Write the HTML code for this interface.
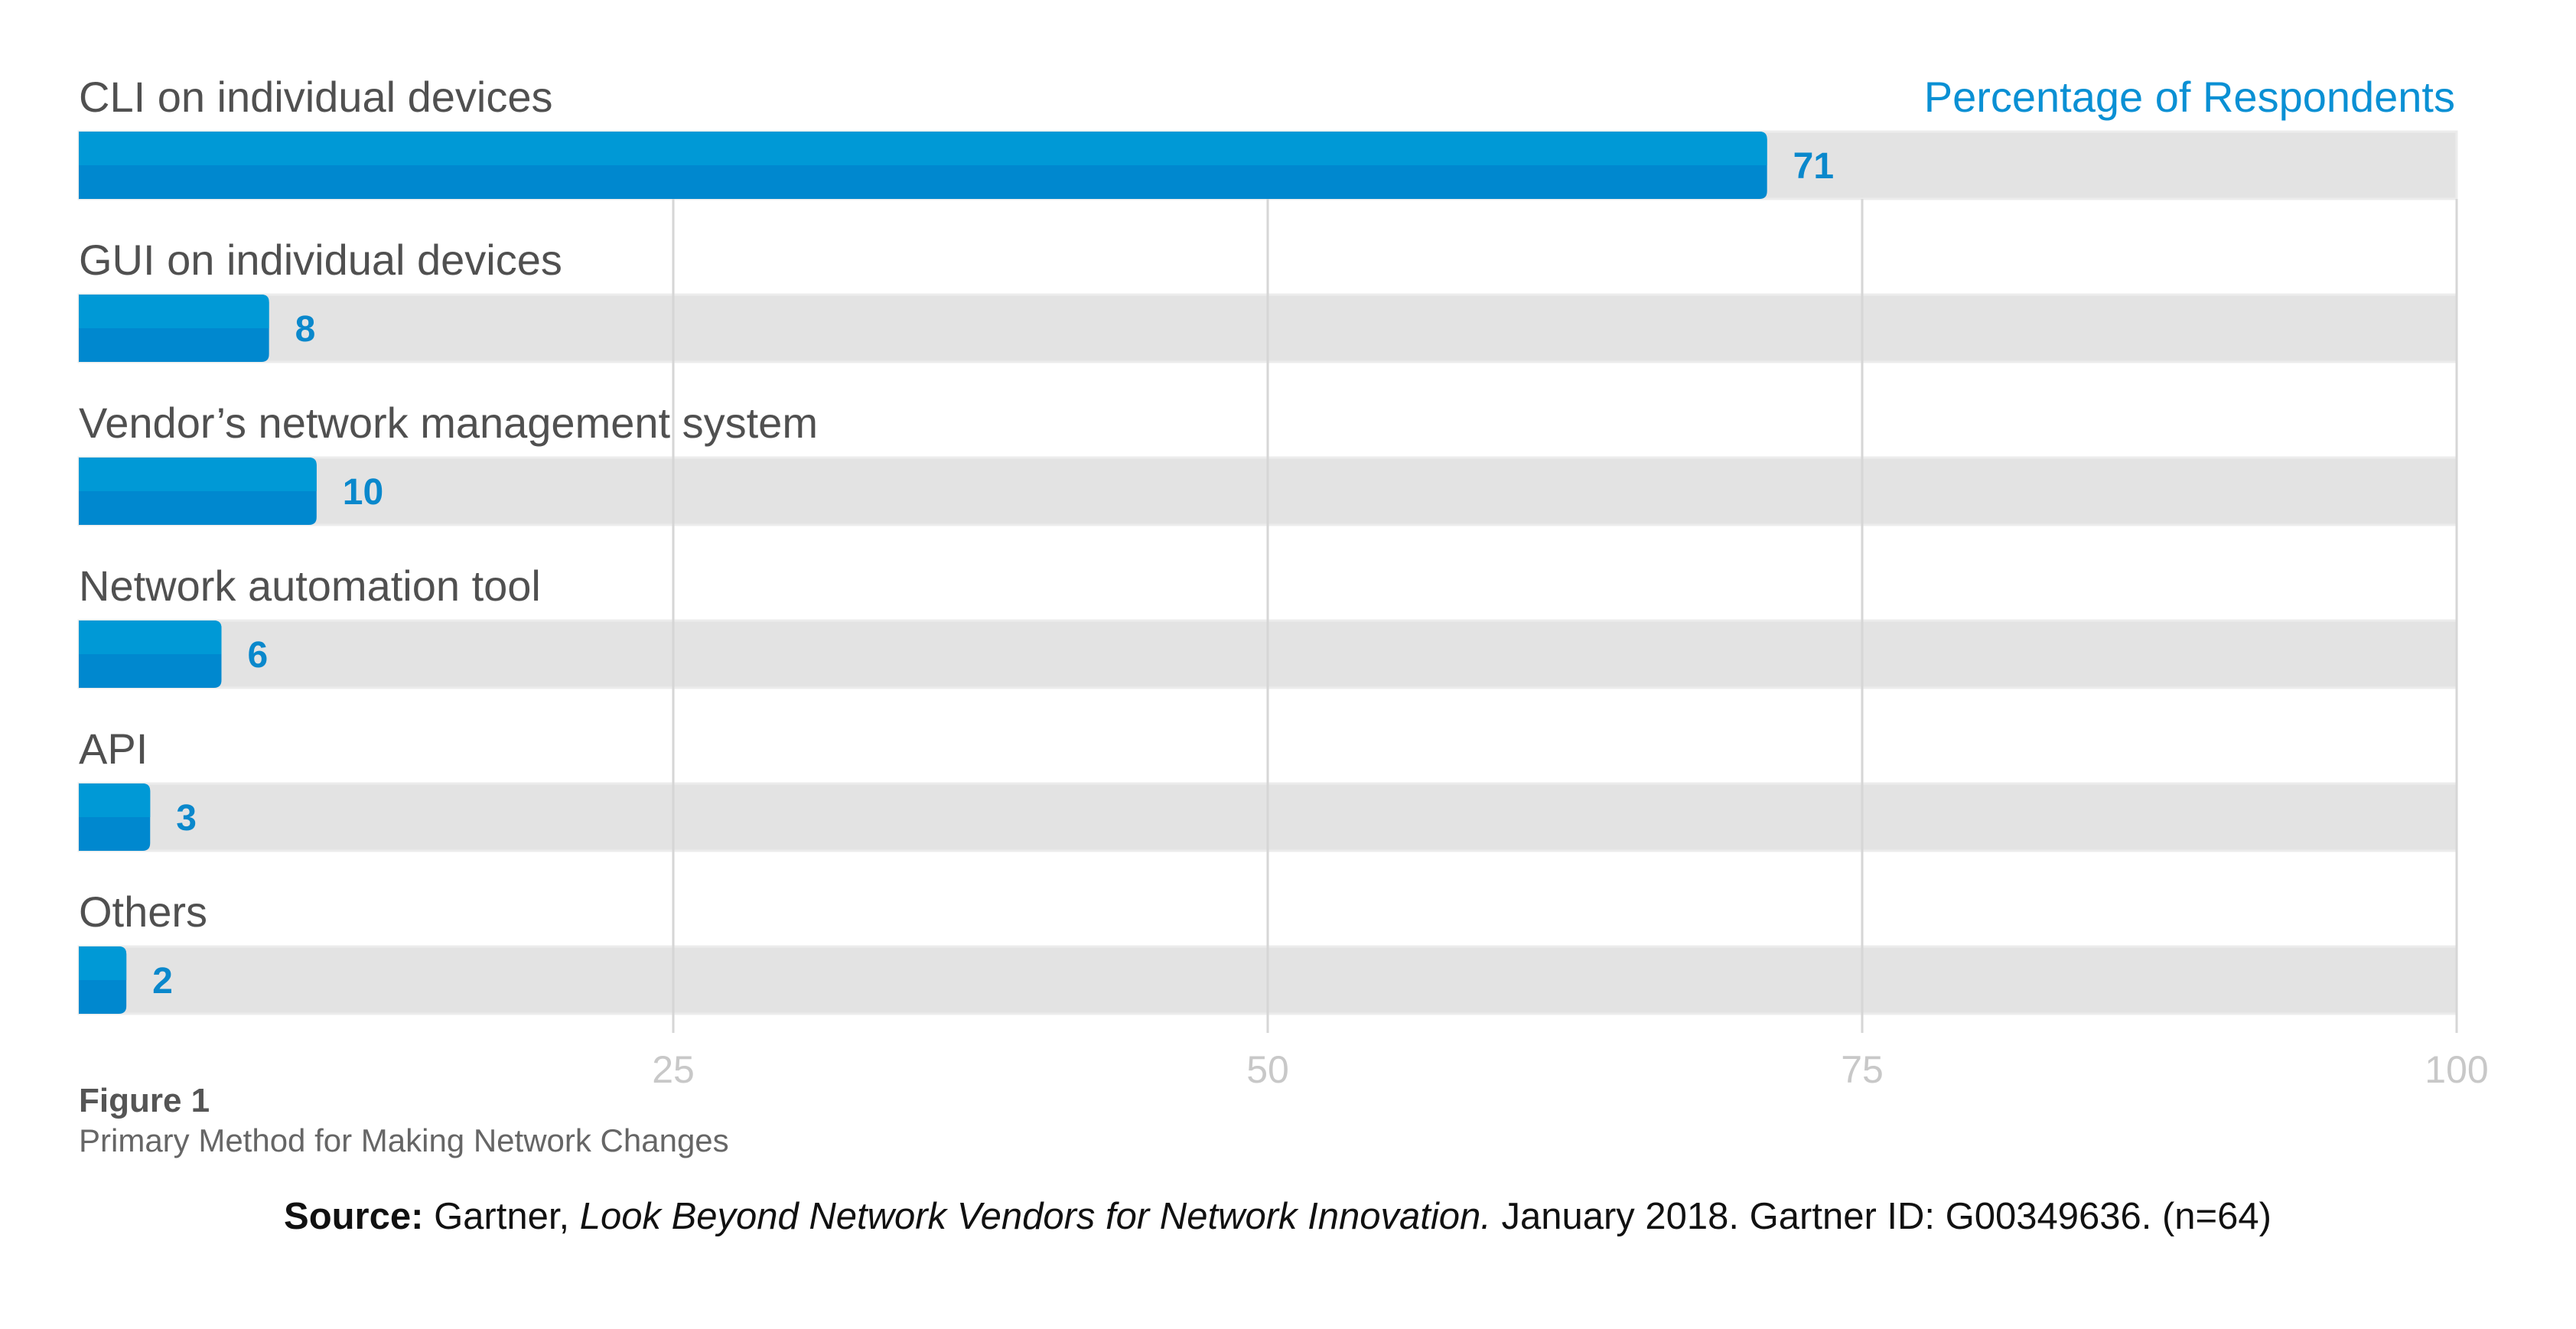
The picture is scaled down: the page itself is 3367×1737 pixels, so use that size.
<!DOCTYPE html>
<html><head><meta charset="utf-8"><style>
html,body{margin:0;padding:0;background:#fff;}
svg{display:block;font-family:"Liberation Sans",sans-serif;}
</style></head><body>
<svg id="chart" width="3367" height="1737" viewBox="0 0 3367 1737" xmlns="http://www.w3.org/2000/svg">
<g id="grid"></g>
<g id="rows"></g>
<g id="ticks"></g>
<text x="3209" y="146" text-anchor="end" font-size="56" fill="#0a90d4">Percentage of Respondents</text>
<text x="103" y="1453" font-size="44" font-weight="bold" fill="#555">Figure 1</text>
<text x="103" y="1505" font-size="42" fill="#666">Primary Method for Making Network Changes</text>
<text x="1670" y="1606" text-anchor="middle" font-size="49" fill="#111"><tspan font-weight="bold">Source:</tspan> Gartner, <tspan font-style="italic">Look Beyond Network Vendors for Network Innovation.</tspan> January 2018. Gartner ID: G00349636. (n=64)</text>
</svg>
<script>
const categories = ["CLI on individual devices","GUI on individual devices","Vendor\u2019s network management system","Network automation tool","API","Others"];
const values = [71, 8, 10, 6, 3, 2];
const tickValues = [25, 50, 75, 100];
const tickLabels = ["25","50","75","100"];

const NS = "http://www.w3.org/2000/svg";
const X0 = 103, X1 = 3211, MAXV = 100;
const xScale = v => X0 + (v / MAXV) * (X1 - X0);
const ROW0 = 172, ROWSTEP = 213, BARH = 88;
const yRow = i => ROW0 + i * ROWSTEP;
function mk(tag, attrs, parent){ const e=document.createElementNS(NS,tag); for(const k in attrs) e.setAttribute(k,attrs[k]); parent.appendChild(e); return e; }

const rows = document.getElementById('rows');
const ticks = document.getElementById('ticks');

categories.forEach((c,i)=>{
  const y = yRow(i);
  const t = mk('rect',{x:X0,y:y,width:X1-X0,height:BARH,fill:'#e3e3e3',stroke:'#ececec','stroke-width':3},rows);
  
  
});
tickValues.forEach((v,i)=>{
  const l = mk('line',{x1:xScale(v),x2:xScale(v),y1:yRow(0)+BARH,y2:1350,stroke:'#d6d6d6','stroke-width':3},rows);
  
  
  const t = mk('text',{x:xScale(v),y:1415,'text-anchor':'middle','font-size':50,fill:'#c8c8c8'},ticks);
  t.textContent = tickLabels[i];
  
  
});
categories.forEach((c,i)=>{
  const y = yRow(i);
  const w = xScale(values[i]) - X0;
  const lab = mk('text',{x:X0,y:y-26,'font-size':56,fill:'#505050'},rows);
  lab.textContent = c;
  
  
  const g = mk('g',{},rows);
  
  
  const r = Math.min(10, w/2);
  mk('path',{d:`M${X0},${y} H${X0+w-r} Q${X0+w},${y} ${X0+w},${y+r} V${y+BARH-r} Q${X0+w},${y+BARH} ${X0+w-r},${y+BARH} H${X0} Z`,fill:'#0088cf'},g);
  mk('path',{d:`M${X0},${y} H${X0+w-r} Q${X0+w},${y} ${X0+w},${y+r} V${y+BARH/2} H${X0} Z`,fill:'#0099d6'},g);
  const vt = mk('text',{x:X0+w+34,y:y+BARH/2+17,'font-size':48,'font-weight':'bold',fill:'#0a88cc'},rows);
  vt.textContent = values[i];
  
  
});
</script>
</body></html>
